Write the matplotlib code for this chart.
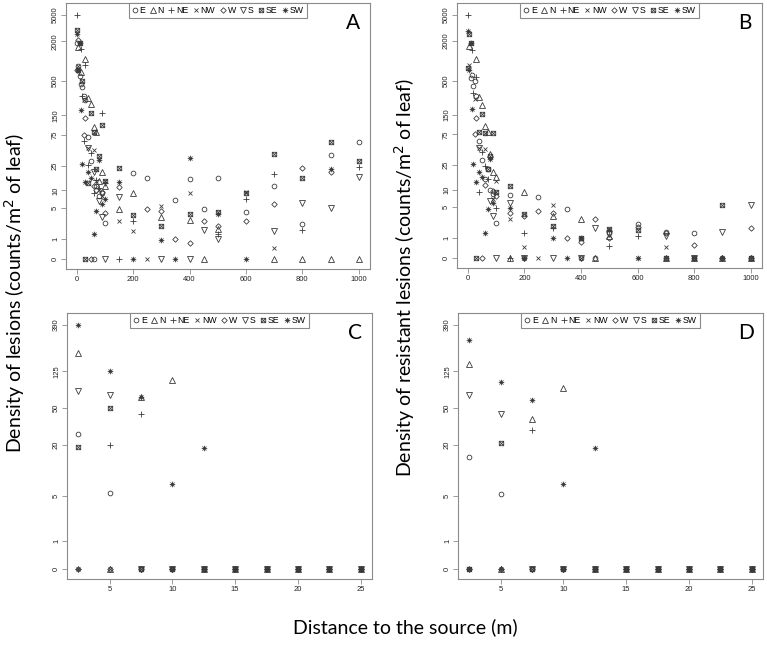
import numpy as np
import matplotlib
matplotlib.use("Agg")
import matplotlib.pyplot as plt
from matplotlib.path import Path

nan = np.nan

# distances (m) for panels A/B and C/D
dist_ab = [2.5, 5, 10, 15, 20, 25, 30, 40, 50, 60, 70, 80, 90, 100,
           150, 200, 250, 300, 350, 400, 450, 500, 600, 700, 800, 900, 1000]
dist_cd = [2.5, 5, 7.5, 10, 12.5, 15, 17.5, 20, 22.5, 25]

directions = ["E", "N", "NE", "NW", "W", "S", "SE", "SW"]

# Panel A : density of lesions
a_E = [1900, 850, 590, 450, 400, 300, 255, 70, 30, 0, 12, 8, 9, 2.5,
       nan, 19.3, 16.1, nan, 6.8, 15.3, 4.8, 16, 4.2, 11.8, 2.4, 37, 59]
a_N = [nan, 1650, nan, 690, nan, nan, 1070, 276, 220, 100, 82, 14, 19.6, 12,
       4.7, 9.1, nan, 3.3, nan, 2.9, 0, 1.85, nan, 0, 0, 0, 0]
a_NE = [5000, nan, nan, 1500, 300, 60, 870, 26, 40, 9, 15, 11, 160, 13,
        0, 2.8, nan, nan, nan, nan, nan, 1.4, 7, 18.4, 1.75, nan, 24]
a_NW = [nan, 850, nan, nan, nan, 260, nan, 47, nan, 44, 14, 10, 8, 14,
        2.8, 1.7, 0, 5.4, nan, 8.9, nan, nan, 9.5, 0.49, nan, nan, nan]
a_W = [720, 2100, nan, nan, nan, 75, 135, nan, 0, 12, 10, nan, 9.5, 4,
       11.3, nan, 4.8, 4.3, 1.0, 0.77, 2.8, 2.2, 2.8, 5.8, 22.6, 20, nan]
a_S = [nan, nan, nan, nan, nan, nan, nan, 47, nan, 20, nan, 6.5, 3.4, 0,
       7.8, nan, nan, 0, nan, 0, 1.8, 1.0, nan, 1.7, 6.2, 5, 16.3]
a_SE = [3000, 720, 1850, nan, 500, nan, 0, 13.4, 160, 83, 22, 35, 106, 14,
        22.6, 3.6, nan, 2.2, nan, 3.9, nan, 4.2, 9.1, 38.5, 16, 59, 30]
a_SW = [2600, 730, 1900, 180, 26.5, nan, 13.5, 19.6, 16, 1.4, 4.4, 31, 5.9, 7,
        13.7, 0, nan, 0.94, 0, 33, nan, 3.9, 0, nan, nan, 21.8, nan]

# Panel B : density of resistant lesions
b_E = [nan, nan, 550, 600, 420, 490, 290, 59, 30, 15, 22, 9.9, 8.6, 2.4,
       8.2, 0, 7.4, nan, 4.6, 0, 0, 1.4, 2.3, 1.5, 1.4, 0, 0]
b_N = [nan, 1660, nan, nan, nan, nan, 1070, 280, 210, 101, 83, 38, 19.6, 16,
       0, 9.2, nan, 3.3, nan, 2.9, 0, 1.2, nan, 0, 0, 0, 0]
b_NE = [5000, nan, nan, 1480, 320, nan, 570, 9, 40, 24, 15, nan, nan, 4.8,
        0, 1.4, nan, 1.9, nan, nan, nan, 0.55, 1.2, 0, 0, nan, 0]
b_NW = [nan, 870, nan, nan, nan, 260, nan, 47, nan, 44, nan, nan, 7, 14,
        2.9, 0.47, 0, 5.5, nan, 0, nan, nan, 0, 0.47, nan, nan, nan]
b_W = [nan, nan, nan, nan, nan, 75, 136, nan, 0, 12, nan, nan, 9.5, 7.8,
       3.8, 3.4, 4.2, 3.9, 1.0, 0.78, 2.9, 1.0, 2.0, 1.4, 0.59, 0, 1.85]
b_S = [nan, nan, nan, nan, nan, nan, nan, 47, nan, nan, nan, 6.5, 3.4, 0,
       6.0, 0, nan, 0, nan, 0, 1.85, 1.3, nan, 1.2, 0, 1.5, 5.5]
b_SE = [780, 2600, 1850, nan, nan, nan, 0, 83, 153, 80, 22, 35, 80, 9,
        11.6, 3.7, nan, 2.1, nan, 1.0, nan, 1.78, 1.7, 0, 0, 5.5, 0]
b_SW = [2800, 730, 1900, 182, 26, nan, 13.5, 19.6, 16, 1.4, 4.5, 31, 5.9, nan,
        4.7, 0, nan, 1.0, 0, 1.0, nan, 1.7, 0, nan, nan, 0, nan]

# Panel C : density of lesions, short distances
c_E = [26, 5.35, 0, 0, 0, 0, 0, 0, 0, 0]
c_N = [195, 0, 66, 102, 0, 0, 0, 0, 0, 0]
c_NE = [0, 20, 43.5, 0, 0, 0, 0, 0, 0, 0]
c_NW = [0, 0, 0, 0, 0, 0, 0, 0, 0, 0]
c_W = [0, 0, 0, 0, 0, 0, 0, 0, 0, 0]
c_S = [77, 70, 0, 0, 0, 0, 0, 0, 0, 0]
c_SE = [18.8, 51, 0, 0, 0, 0, 0, 0, 0, 0]
c_SW = [390, 125, 66, 7.0, 18.5, 0, 0, 0, 0, 0]

# Panel D : density of resistant lesions, short distances
d_E = [14.4, 5.3, 0, 0, 0, 0, 0, 0, 0, 0]
d_N = [149, 0, 38.5, 83, 0, 0, 0, 0, 0, 0]
d_NE = [0, 0, 28.7, 0, 0, 0, 0, 0, 0, 0]
d_NW = [0, 0, 0, 0, 0, 0, 0, 0, 0, 0]
d_W = [0, 0, 0, 0, 0, 0, 0, 0, 0, 0]
d_S = [70, 43, 0, 0, 0, 0, 0, 0, 0, 0]
d_SE = [0, 21, 0, 0, 0, 0, 0, 0, 0, 0]
d_SW = [273, 96, 61, 7.0, 18.5, 0, 0, 0, 0, 0]

ticks_ab = [0, 1, 5, 10, 25, 75, 150, 500, 2000, 5000]
ticks_cd = [0, 1, 5, 20, 50, 125, 390]

# R-like symbols: square with cross (pch 7) and asterisk (pch 8)
M, L, C = Path.MOVETO, Path.LINETO, Path.CLOSEPOLY
box_x = Path([(-1, -1), (1, -1), (1, 1), (-1, 1), (-1, -1),
              (-1, -1), (1, 1), (-1, 1), (1, -1)],
             [M, L, L, L, C, M, L, M, L])
star = Path([(-1, 0), (1, 0), (0, -1), (0, 1),
             (-.72, -.72), (.72, .72), (-.72, .72), (.72, -.72)],
            [M, L, M, L, M, L, M, L])
markers = {"E": ("o", 3.4), "N": ("^", 3.8), "NE": ("+", 4.4), "NW": ("x", 3.4),
           "W": ("D", 2.8), "S": ("v", 3.8), "SE": (box_x, 3.2), "SW": (star, 4.0)}

mk_col = "#3a3a3a"
frame_col = "#8a8a8a"


def fwd(y):
    return np.log10(np.maximum(np.asarray(y, dtype=float) + 1, 1e-9))


def inv(t):
    return 10 ** np.asarray(t, dtype=float) - 1


plt.rcParams["font.family"] = ["Liberation Sans", "DejaVu Sans"]
fig = plt.figure(figsize=(7.67, 6.56), dpi=100)
W, H = 767, 656


def make_ax(left, right, top, bottom):
    return fig.add_axes([left / W, 1 - bottom / H, (right - left) / W, (bottom - top) / H])


def panel(ax, dist, series, yticks, ylim, xlim, xticks, letter):
    ax.set_yscale("function", functions=(fwd, inv))
    for d, vals in zip(directions, series):
        m, ms = markers[d]
        ax.plot(dist, vals, ls="none", marker=m, ms=ms, mfc="none",
                mec=mk_col, mew=0.6, label=d)
    ax.set_ylim(inv(ylim[0]), inv(ylim[1]))
    ax.set_xlim(*xlim)
    ax.set_yticks(yticks)
    ax.set_yticklabels([str(t) for t in yticks], rotation=90, va="center")
    ax.set_xticks(xticks)
    ax.set_xticklabels([str(t) for t in xticks])
    ax.yaxis.set_minor_locator(matplotlib.ticker.NullLocator())
    ax.tick_params(length=3.5, width=0.6, color=frame_col, labelsize=5.5,
                   labelcolor="#222222", pad=1.5)
    for s in ax.spines.values():
        s.set_color(frame_col)
        s.set_linewidth(0.8)
    leg = ax.legend(loc="upper center", bbox_to_anchor=(0.5, 1.0), ncol=8,
                    fontsize=6.3, handlelength=0.6, handletextpad=0.25,
                    columnspacing=0.55, borderpad=0.35, borderaxespad=0,
                    fancybox=False, framealpha=1)
    leg.get_frame().set_edgecolor(frame_col)
    leg.get_frame().set_linewidth(0.8)
    ax.text(0.945, 0.925, letter, transform=ax.transAxes, fontsize=15,
            ha="center", va="center", family=["Lato", "DejaVu Sans"])


ax_a = make_ax(66, 370, 3, 269)
panel(ax_a, dist_ab, [a_E, a_N, a_NE, a_NW, a_W, a_S, a_SE, a_SW], ticks_ab,
      (-0.15, 3.88), (-38, 1040), [0, 200, 400, 600, 800, 1000], "A")
ax_b = make_ax(457, 762, 3, 268)
panel(ax_b, dist_ab, [b_E, b_N, b_NE, b_NW, b_W, b_S, b_SE, b_SW], ticks_ab,
      (-0.15, 3.88), (-38, 1040), [0, 200, 400, 600, 800, 1000], "B")
ax_c = make_ax(67, 372, 313, 579)
panel(ax_c, dist_cd, [c_E, c_N, c_NE, c_NW, c_W, c_S, c_SE, c_SW], ticks_cd,
      (-0.106, 2.72), (1.6, 25.9), [5, 10, 15, 20, 25], "C")
ax_d = make_ax(458, 763, 313, 579)
panel(ax_d, dist_cd, [d_E, d_N, d_NE, d_NW, d_W, d_S, d_SE, d_SW], ticks_cd,
      (-0.106, 2.72), (1.6, 25.9), [5, 10, 15, 20, 25], "D")

lab_font = ["Lato", "DejaVu Sans"]
fig.text(15 / W, 1 - 293 / H, "Density of lesions (counts/m$^2$ of leaf)",
         rotation=90, ha="center", va="center", fontsize=14, family=lab_font)
fig.text(405 / W, 1 - 278 / H, "Density of resistant lesions (counts/m$^2$ of leaf)",
         rotation=90, ha="center", va="center", fontsize=14, family=lab_font)
fig.text(405 / W, 1 - 627 / H, "Distance to the source (m)",
         ha="center", va="center", fontsize=14, family=lab_font)

fig.savefig("out.png", dpi=100)
